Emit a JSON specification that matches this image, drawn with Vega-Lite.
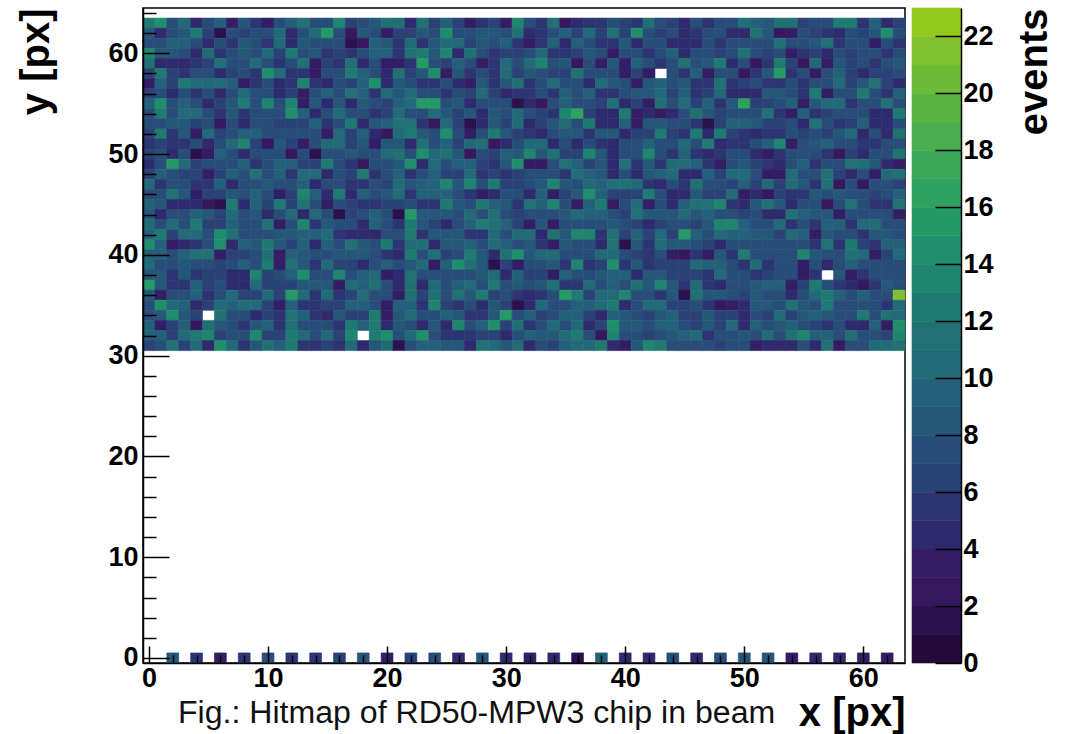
{"$schema":"https://vega.github.io/schema/vega-lite/v6.json","padding":{"left":16,"top":-2,"right":0,"bottom":0},"background":"white","spacing":4,
"title":{"text":"Fig.: Hitmap of RD50-MPW3 chip in beam","orient":"bottom","anchor":"start","frame":"group","font":"Liberation Sans","fontSize":32.1,"fontWeight":"normal","color":"#111111","offset":-36,"dx":35},
"config":{"view":{"stroke":null},"font":"Liberation Sans"},
"hconcat":[
{"width":762,"height":655,"view":{"stroke":"black","strokeWidth":1.5},
"data":{"values":[
{"x":2,"y":0,"v":8},{"x":4,"y":0,"v":5},{"x":6,"y":0,"v":3},{"x":8,"y":0,"v":5},{"x":10,"y":0,"v":7},{"x":12,"y":0,"v":5},{"x":14,"y":0,"v":5},{"x":16,"y":0,"v":6},{"x":18,"y":0,"v":8},{"x":20,"y":0,"v":3},{"x":22,"y":0,"v":6},{"x":24,"y":0,"v":7},{"x":26,"y":0,"v":4},{"x":28,"y":0,"v":8},{"x":30,"y":0,"v":4},{"x":32,"y":0,"v":3},{"x":34,"y":0,"v":4},{"x":36,"y":0,"v":1},{"x":38,"y":0,"v":9},{"x":40,"y":0,"v":4},{"x":42,"y":0,"v":4},{"x":44,"y":0,"v":7},{"x":46,"y":0,"v":4},{"x":48,"y":0,"v":7},{"x":50,"y":0,"v":8},{"x":52,"y":0,"v":8},{"x":54,"y":0,"v":3},{"x":56,"y":0,"v":4},{"x":58,"y":0,"v":4},{"x":60,"y":0,"v":3},{"x":62,"y":0,"v":3},
{"x":0,"y":63,"v":12},{"x":1,"y":63,"v":14},{"x":2,"y":63,"v":7},{"x":3,"y":63,"v":10},{"x":4,"y":63,"v":4},{"x":5,"y":63,"v":7},{"x":6,"y":63,"v":9},{"x":7,"y":63,"v":3},{"x":8,"y":63,"v":8},{"x":9,"y":63,"v":5},{"x":10,"y":63,"v":3},{"x":11,"y":63,"v":7},{"x":12,"y":63,"v":9},{"x":13,"y":63,"v":11},{"x":14,"y":63,"v":7},{"x":15,"y":63,"v":7},{"x":16,"y":63,"v":13},{"x":17,"y":63,"v":6},{"x":18,"y":63,"v":7},{"x":19,"y":63,"v":8},{"x":20,"y":63,"v":11},{"x":21,"y":63,"v":11},{"x":22,"y":63,"v":4},{"x":23,"y":63,"v":11},{"x":24,"y":63,"v":6},{"x":25,"y":63,"v":9},{"x":26,"y":63,"v":6},{"x":27,"y":63,"v":3},{"x":28,"y":63,"v":5},{"x":29,"y":63,"v":6},{"x":30,"y":63,"v":3},{"x":31,"y":63,"v":13},{"x":32,"y":63,"v":7},{"x":33,"y":63,"v":5},{"x":34,"y":63,"v":11},{"x":35,"y":63,"v":2},{"x":36,"y":63,"v":4},{"x":37,"y":63,"v":5},{"x":38,"y":63,"v":5},{"x":39,"y":63,"v":7},{"x":40,"y":63,"v":6},{"x":41,"y":63,"v":5},{"x":42,"y":63,"v":11},{"x":43,"y":63,"v":7},{"x":44,"y":63,"v":6},{"x":45,"y":63,"v":4},{"x":46,"y":63,"v":7},{"x":47,"y":63,"v":5},{"x":48,"y":63,"v":7},{"x":49,"y":63,"v":7},{"x":50,"y":63,"v":11},{"x":51,"y":63,"v":9},{"x":52,"y":63,"v":8},{"x":53,"y":63,"v":11},{"x":54,"y":63,"v":11},{"x":55,"y":63,"v":6},{"x":56,"y":63,"v":7},{"x":57,"y":63,"v":7},{"x":58,"y":63,"v":12},{"x":59,"y":63,"v":12},{"x":60,"y":63,"v":5},{"x":61,"y":63,"v":9},{"x":62,"y":63,"v":4},{"x":63,"y":63,"v":6},
{"x":0,"y":62,"v":8},{"x":1,"y":62,"v":4},{"x":2,"y":62,"v":7},{"x":3,"y":62,"v":8},{"x":4,"y":62,"v":12},{"x":5,"y":62,"v":6},{"x":6,"y":62,"v":1},{"x":7,"y":62,"v":7},{"x":8,"y":62,"v":6},{"x":9,"y":62,"v":7},{"x":10,"y":62,"v":7},{"x":11,"y":62,"v":10},{"x":12,"y":62,"v":4},{"x":13,"y":62,"v":7},{"x":14,"y":62,"v":10},{"x":15,"y":62,"v":15},{"x":16,"y":62,"v":7},{"x":17,"y":62,"v":2},{"x":18,"y":62,"v":8},{"x":19,"y":62,"v":7},{"x":20,"y":62,"v":3},{"x":21,"y":62,"v":6},{"x":22,"y":62,"v":6},{"x":23,"y":62,"v":8},{"x":24,"y":62,"v":7},{"x":25,"y":62,"v":14},{"x":26,"y":62,"v":7},{"x":27,"y":62,"v":7},{"x":28,"y":62,"v":8},{"x":29,"y":62,"v":8},{"x":30,"y":62,"v":7},{"x":31,"y":62,"v":11},{"x":32,"y":62,"v":4},{"x":33,"y":62,"v":5},{"x":34,"y":62,"v":7},{"x":35,"y":62,"v":9},{"x":36,"y":62,"v":6},{"x":37,"y":62,"v":10},{"x":38,"y":62,"v":6},{"x":39,"y":62,"v":11},{"x":40,"y":62,"v":6},{"x":41,"y":62,"v":14},{"x":42,"y":62,"v":7},{"x":43,"y":62,"v":6},{"x":44,"y":62,"v":7},{"x":45,"y":62,"v":4},{"x":46,"y":62,"v":5},{"x":47,"y":62,"v":7},{"x":48,"y":62,"v":7},{"x":49,"y":62,"v":4},{"x":50,"y":62,"v":4},{"x":51,"y":62,"v":11},{"x":52,"y":62,"v":8},{"x":53,"y":62,"v":2},{"x":54,"y":62,"v":3},{"x":55,"y":62,"v":7},{"x":56,"y":62,"v":6},{"x":57,"y":62,"v":5},{"x":58,"y":62,"v":4},{"x":59,"y":62,"v":7},{"x":60,"y":62,"v":6},{"x":61,"y":62,"v":8},{"x":62,"y":62,"v":14},{"x":63,"y":62,"v":7},
{"x":0,"y":61,"v":7},{"x":1,"y":61,"v":7},{"x":2,"y":61,"v":9},{"x":3,"y":61,"v":9},{"x":4,"y":61,"v":7},{"x":5,"y":61,"v":4},{"x":6,"y":61,"v":7},{"x":7,"y":61,"v":5},{"x":8,"y":61,"v":8},{"x":9,"y":61,"v":7},{"x":10,"y":61,"v":5},{"x":11,"y":61,"v":10},{"x":12,"y":61,"v":4},{"x":13,"y":61,"v":8},{"x":14,"y":61,"v":7},{"x":15,"y":61,"v":7},{"x":16,"y":61,"v":7},{"x":17,"y":61,"v":1},{"x":18,"y":61,"v":2},{"x":19,"y":61,"v":9},{"x":20,"y":61,"v":8},{"x":21,"y":61,"v":5},{"x":22,"y":61,"v":10},{"x":23,"y":61,"v":5},{"x":24,"y":61,"v":8},{"x":25,"y":61,"v":10},{"x":26,"y":61,"v":10},{"x":27,"y":61,"v":6},{"x":28,"y":61,"v":8},{"x":29,"y":61,"v":7},{"x":30,"y":61,"v":9},{"x":31,"y":61,"v":5},{"x":32,"y":61,"v":3},{"x":33,"y":61,"v":5},{"x":34,"y":61,"v":9},{"x":35,"y":61,"v":4},{"x":36,"y":61,"v":9},{"x":37,"y":61,"v":7},{"x":38,"y":61,"v":5},{"x":39,"y":61,"v":5},{"x":40,"y":61,"v":8},{"x":41,"y":61,"v":4},{"x":42,"y":61,"v":7},{"x":43,"y":61,"v":7},{"x":44,"y":61,"v":4},{"x":45,"y":61,"v":4},{"x":46,"y":61,"v":4},{"x":47,"y":61,"v":7},{"x":48,"y":61,"v":5},{"x":49,"y":61,"v":7},{"x":50,"y":61,"v":7},{"x":51,"y":61,"v":7},{"x":52,"y":61,"v":7},{"x":53,"y":61,"v":11},{"x":54,"y":61,"v":7},{"x":55,"y":61,"v":7},{"x":56,"y":61,"v":8},{"x":57,"y":61,"v":11},{"x":58,"y":61,"v":5},{"x":59,"y":61,"v":7},{"x":60,"y":61,"v":7},{"x":61,"y":61,"v":3},{"x":62,"y":61,"v":7},{"x":63,"y":61,"v":5},
{"x":0,"y":60,"v":13},{"x":1,"y":60,"v":8},{"x":2,"y":60,"v":8},{"x":3,"y":60,"v":7},{"x":4,"y":60,"v":4},{"x":5,"y":60,"v":10},{"x":6,"y":60,"v":5},{"x":7,"y":60,"v":7},{"x":8,"y":60,"v":8},{"x":9,"y":60,"v":7},{"x":10,"y":60,"v":10},{"x":11,"y":60,"v":6},{"x":12,"y":60,"v":12},{"x":13,"y":60,"v":7},{"x":14,"y":60,"v":8},{"x":15,"y":60,"v":5},{"x":16,"y":60,"v":6},{"x":17,"y":60,"v":5},{"x":18,"y":60,"v":7},{"x":19,"y":60,"v":9},{"x":20,"y":60,"v":9},{"x":21,"y":60,"v":5},{"x":22,"y":60,"v":11},{"x":23,"y":60,"v":12},{"x":24,"y":60,"v":8},{"x":25,"y":60,"v":13},{"x":26,"y":60,"v":4},{"x":27,"y":60,"v":11},{"x":28,"y":60,"v":7},{"x":29,"y":60,"v":5},{"x":30,"y":60,"v":6},{"x":31,"y":60,"v":6},{"x":32,"y":60,"v":7},{"x":33,"y":60,"v":10},{"x":34,"y":60,"v":5},{"x":35,"y":60,"v":5},{"x":36,"y":60,"v":6},{"x":37,"y":60,"v":8},{"x":38,"y":60,"v":7},{"x":39,"y":60,"v":3},{"x":40,"y":60,"v":7},{"x":41,"y":60,"v":7},{"x":42,"y":60,"v":5},{"x":43,"y":60,"v":7},{"x":44,"y":60,"v":9},{"x":45,"y":60,"v":4},{"x":46,"y":60,"v":7},{"x":47,"y":60,"v":7},{"x":48,"y":60,"v":6},{"x":49,"y":60,"v":7},{"x":50,"y":60,"v":11},{"x":51,"y":60,"v":7},{"x":52,"y":60,"v":6},{"x":53,"y":60,"v":7},{"x":54,"y":60,"v":3},{"x":55,"y":60,"v":5},{"x":56,"y":60,"v":6},{"x":57,"y":60,"v":4},{"x":58,"y":60,"v":7},{"x":59,"y":60,"v":6},{"x":60,"y":60,"v":7},{"x":61,"y":60,"v":7},{"x":62,"y":60,"v":5},{"x":63,"y":60,"v":7},
{"x":0,"y":59,"v":11},{"x":1,"y":59,"v":4},{"x":2,"y":59,"v":4},{"x":3,"y":59,"v":4},{"x":4,"y":59,"v":5},{"x":5,"y":59,"v":6},{"x":6,"y":59,"v":11},{"x":7,"y":59,"v":7},{"x":8,"y":59,"v":7},{"x":9,"y":59,"v":10},{"x":10,"y":59,"v":7},{"x":11,"y":59,"v":5},{"x":12,"y":59,"v":7},{"x":13,"y":59,"v":11},{"x":14,"y":59,"v":3},{"x":15,"y":59,"v":6},{"x":16,"y":59,"v":5},{"x":17,"y":59,"v":11},{"x":18,"y":59,"v":4},{"x":19,"y":59,"v":7},{"x":20,"y":59,"v":3},{"x":21,"y":59,"v":3},{"x":22,"y":59,"v":5},{"x":23,"y":59,"v":15},{"x":24,"y":59,"v":7},{"x":25,"y":59,"v":6},{"x":26,"y":59,"v":9},{"x":27,"y":59,"v":7},{"x":28,"y":59,"v":3},{"x":29,"y":59,"v":5},{"x":30,"y":59,"v":10},{"x":31,"y":59,"v":7},{"x":32,"y":59,"v":10},{"x":33,"y":59,"v":13},{"x":34,"y":59,"v":7},{"x":35,"y":59,"v":8},{"x":36,"y":59,"v":2},{"x":37,"y":59,"v":7},{"x":38,"y":59,"v":3},{"x":39,"y":59,"v":8},{"x":40,"y":59,"v":3},{"x":41,"y":59,"v":9},{"x":42,"y":59,"v":7},{"x":43,"y":59,"v":5},{"x":44,"y":59,"v":7},{"x":45,"y":59,"v":11},{"x":46,"y":59,"v":7},{"x":47,"y":59,"v":8},{"x":48,"y":59,"v":12},{"x":49,"y":59,"v":4},{"x":50,"y":59,"v":7},{"x":51,"y":59,"v":2},{"x":52,"y":59,"v":5},{"x":53,"y":59,"v":12},{"x":54,"y":59,"v":6},{"x":55,"y":59,"v":2},{"x":56,"y":59,"v":10},{"x":57,"y":59,"v":3},{"x":58,"y":59,"v":8},{"x":59,"y":59,"v":6},{"x":60,"y":59,"v":7},{"x":61,"y":59,"v":5},{"x":62,"y":59,"v":7},{"x":63,"y":59,"v":8},
{"x":0,"y":58,"v":6},{"x":1,"y":58,"v":12},{"x":2,"y":58,"v":6},{"x":3,"y":58,"v":5},{"x":4,"y":58,"v":7},{"x":5,"y":58,"v":7},{"x":6,"y":58,"v":4},{"x":7,"y":58,"v":6},{"x":8,"y":58,"v":7},{"x":9,"y":58,"v":5},{"x":10,"y":58,"v":14},{"x":11,"y":58,"v":10},{"x":12,"y":58,"v":5},{"x":13,"y":58,"v":5},{"x":14,"y":58,"v":3},{"x":15,"y":58,"v":7},{"x":16,"y":58,"v":7},{"x":17,"y":58,"v":12},{"x":18,"y":58,"v":9},{"x":19,"y":58,"v":7},{"x":20,"y":58,"v":4},{"x":21,"y":58,"v":11},{"x":22,"y":58,"v":6},{"x":23,"y":58,"v":8},{"x":24,"y":58,"v":14},{"x":25,"y":58,"v":3},{"x":26,"y":58,"v":8},{"x":27,"y":58,"v":5},{"x":28,"y":58,"v":7},{"x":29,"y":58,"v":5},{"x":30,"y":58,"v":10},{"x":31,"y":58,"v":6},{"x":32,"y":58,"v":8},{"x":33,"y":58,"v":7},{"x":34,"y":58,"v":6},{"x":35,"y":58,"v":6},{"x":36,"y":58,"v":11},{"x":37,"y":58,"v":7},{"x":38,"y":58,"v":7},{"x":39,"y":58,"v":7},{"x":40,"y":58,"v":3},{"x":41,"y":58,"v":6},{"x":42,"y":58,"v":3},{"x":44,"y":58,"v":7},{"x":45,"y":58,"v":5},{"x":46,"y":58,"v":9},{"x":47,"y":58,"v":3},{"x":48,"y":58,"v":7},{"x":49,"y":58,"v":7},{"x":50,"y":58,"v":2},{"x":51,"y":58,"v":5},{"x":52,"y":58,"v":8},{"x":53,"y":58,"v":15},{"x":54,"y":58,"v":5},{"x":55,"y":58,"v":7},{"x":56,"y":58,"v":3},{"x":57,"y":58,"v":7},{"x":58,"y":58,"v":9},{"x":59,"y":58,"v":6},{"x":60,"y":58,"v":4},{"x":61,"y":58,"v":6},{"x":62,"y":58,"v":6},{"x":63,"y":58,"v":7},
{"x":0,"y":57,"v":3},{"x":1,"y":57,"v":9},{"x":2,"y":57,"v":6},{"x":3,"y":57,"v":12},{"x":4,"y":57,"v":10},{"x":5,"y":57,"v":10},{"x":6,"y":57,"v":10},{"x":7,"y":57,"v":9},{"x":8,"y":57,"v":3},{"x":9,"y":57,"v":5},{"x":10,"y":57,"v":7},{"x":11,"y":57,"v":4},{"x":12,"y":57,"v":5},{"x":13,"y":57,"v":13},{"x":14,"y":57,"v":5},{"x":15,"y":57,"v":4},{"x":16,"y":57,"v":7},{"x":17,"y":57,"v":6},{"x":18,"y":57,"v":9},{"x":19,"y":57,"v":14},{"x":20,"y":57,"v":4},{"x":21,"y":57,"v":8},{"x":22,"y":57,"v":7},{"x":23,"y":57,"v":5},{"x":24,"y":57,"v":5},{"x":25,"y":57,"v":7},{"x":26,"y":57,"v":4},{"x":27,"y":57,"v":3},{"x":28,"y":57,"v":8},{"x":29,"y":57,"v":5},{"x":30,"y":57,"v":8},{"x":31,"y":57,"v":11},{"x":32,"y":57,"v":5},{"x":33,"y":57,"v":7},{"x":34,"y":57,"v":10},{"x":35,"y":57,"v":7},{"x":36,"y":57,"v":7},{"x":37,"y":57,"v":4},{"x":38,"y":57,"v":10},{"x":39,"y":57,"v":8},{"x":40,"y":57,"v":7},{"x":41,"y":57,"v":3},{"x":42,"y":57,"v":8},{"x":43,"y":57,"v":9},{"x":44,"y":57,"v":7},{"x":45,"y":57,"v":8},{"x":46,"y":57,"v":5},{"x":47,"y":57,"v":5},{"x":48,"y":57,"v":11},{"x":49,"y":57,"v":5},{"x":50,"y":57,"v":6},{"x":51,"y":57,"v":7},{"x":52,"y":57,"v":5},{"x":53,"y":57,"v":5},{"x":54,"y":57,"v":7},{"x":55,"y":57,"v":5},{"x":56,"y":57,"v":7},{"x":57,"y":57,"v":7},{"x":58,"y":57,"v":10},{"x":59,"y":57,"v":6},{"x":60,"y":57,"v":8},{"x":61,"y":57,"v":11},{"x":62,"y":57,"v":6},{"x":63,"y":57,"v":4},
{"x":0,"y":56,"v":6},{"x":1,"y":56,"v":7},{"x":2,"y":56,"v":4},{"x":3,"y":56,"v":7},{"x":4,"y":56,"v":5},{"x":5,"y":56,"v":7},{"x":6,"y":56,"v":4},{"x":7,"y":56,"v":7},{"x":8,"y":56,"v":10},{"x":9,"y":56,"v":7},{"x":10,"y":56,"v":7},{"x":11,"y":56,"v":4},{"x":12,"y":56,"v":6},{"x":13,"y":56,"v":3},{"x":14,"y":56,"v":7},{"x":15,"y":56,"v":9},{"x":16,"y":56,"v":7},{"x":17,"y":56,"v":11},{"x":18,"y":56,"v":9},{"x":19,"y":56,"v":5},{"x":20,"y":56,"v":10},{"x":21,"y":56,"v":8},{"x":22,"y":56,"v":10},{"x":23,"y":56,"v":7},{"x":24,"y":56,"v":7},{"x":25,"y":56,"v":5},{"x":26,"y":56,"v":7},{"x":27,"y":56,"v":6},{"x":28,"y":56,"v":10},{"x":29,"y":56,"v":6},{"x":30,"y":56,"v":4},{"x":31,"y":56,"v":5},{"x":32,"y":56,"v":5},{"x":33,"y":56,"v":7},{"x":34,"y":56,"v":5},{"x":35,"y":56,"v":9},{"x":36,"y":56,"v":7},{"x":37,"y":56,"v":9},{"x":38,"y":56,"v":5},{"x":39,"y":56,"v":5},{"x":40,"y":56,"v":7},{"x":41,"y":56,"v":8},{"x":42,"y":56,"v":8},{"x":43,"y":56,"v":10},{"x":44,"y":56,"v":6},{"x":45,"y":56,"v":9},{"x":46,"y":56,"v":5},{"x":47,"y":56,"v":6},{"x":48,"y":56,"v":10},{"x":49,"y":56,"v":4},{"x":50,"y":56,"v":4},{"x":51,"y":56,"v":4},{"x":52,"y":56,"v":8},{"x":53,"y":56,"v":8},{"x":54,"y":56,"v":7},{"x":55,"y":56,"v":5},{"x":56,"y":56,"v":12},{"x":57,"y":56,"v":3},{"x":58,"y":56,"v":7},{"x":59,"y":56,"v":7},{"x":60,"y":56,"v":12},{"x":61,"y":56,"v":7},{"x":62,"y":56,"v":5},{"x":63,"y":56,"v":9},
{"x":0,"y":55,"v":9},{"x":1,"y":55,"v":14},{"x":2,"y":55,"v":7},{"x":3,"y":55,"v":9},{"x":4,"y":55,"v":7},{"x":5,"y":55,"v":4},{"x":6,"y":55,"v":6},{"x":7,"y":55,"v":8},{"x":8,"y":55,"v":12},{"x":9,"y":55,"v":7},{"x":10,"y":55,"v":13},{"x":11,"y":55,"v":7},{"x":12,"y":55,"v":13},{"x":13,"y":55,"v":3},{"x":14,"y":55,"v":8},{"x":15,"y":55,"v":4},{"x":16,"y":55,"v":8},{"x":17,"y":55,"v":4},{"x":18,"y":55,"v":8},{"x":19,"y":55,"v":7},{"x":20,"y":55,"v":6},{"x":21,"y":55,"v":9},{"x":22,"y":55,"v":10},{"x":23,"y":55,"v":15},{"x":24,"y":55,"v":15},{"x":25,"y":55,"v":7},{"x":26,"y":55,"v":8},{"x":27,"y":55,"v":4},{"x":28,"y":55,"v":7},{"x":29,"y":55,"v":7},{"x":30,"y":55,"v":7},{"x":31,"y":55,"v":1},{"x":32,"y":55,"v":4},{"x":33,"y":55,"v":2},{"x":34,"y":55,"v":7},{"x":35,"y":55,"v":9},{"x":36,"y":55,"v":7},{"x":37,"y":55,"v":7},{"x":38,"y":55,"v":6},{"x":39,"y":55,"v":11},{"x":40,"y":55,"v":4},{"x":41,"y":55,"v":6},{"x":42,"y":55,"v":3},{"x":43,"y":55,"v":11},{"x":44,"y":55,"v":7},{"x":45,"y":55,"v":10},{"x":46,"y":55,"v":6},{"x":47,"y":55,"v":9},{"x":48,"y":55,"v":5},{"x":49,"y":55,"v":8},{"x":50,"y":55,"v":16},{"x":51,"y":55,"v":6},{"x":52,"y":55,"v":6},{"x":53,"y":55,"v":7},{"x":54,"y":55,"v":9},{"x":55,"y":55,"v":3},{"x":56,"y":55,"v":8},{"x":57,"y":55,"v":10},{"x":58,"y":55,"v":10},{"x":59,"y":55,"v":5},{"x":60,"y":55,"v":7},{"x":61,"y":55,"v":7},{"x":62,"y":55,"v":11},{"x":63,"y":55,"v":7},
{"x":0,"y":54,"v":7},{"x":1,"y":54,"v":12},{"x":2,"y":54,"v":7},{"x":3,"y":54,"v":10},{"x":4,"y":54,"v":10},{"x":5,"y":54,"v":7},{"x":6,"y":54,"v":5},{"x":7,"y":54,"v":8},{"x":8,"y":54,"v":5},{"x":9,"y":54,"v":7},{"x":10,"y":54,"v":7},{"x":11,"y":54,"v":7},{"x":12,"y":54,"v":14},{"x":13,"y":54,"v":9},{"x":14,"y":54,"v":4},{"x":15,"y":54,"v":7},{"x":16,"y":54,"v":10},{"x":17,"y":54,"v":7},{"x":18,"y":54,"v":7},{"x":19,"y":54,"v":5},{"x":20,"y":54,"v":6},{"x":21,"y":54,"v":10},{"x":22,"y":54,"v":7},{"x":23,"y":54,"v":7},{"x":24,"y":54,"v":10},{"x":25,"y":54,"v":8},{"x":26,"y":54,"v":6},{"x":27,"y":54,"v":8},{"x":28,"y":54,"v":4},{"x":29,"y":54,"v":8},{"x":30,"y":54,"v":7},{"x":31,"y":54,"v":10},{"x":32,"y":54,"v":7},{"x":33,"y":54,"v":6},{"x":34,"y":54,"v":5},{"x":35,"y":54,"v":13},{"x":36,"y":54,"v":16},{"x":37,"y":54,"v":6},{"x":38,"y":54,"v":4},{"x":39,"y":54,"v":4},{"x":40,"y":54,"v":12},{"x":41,"y":54,"v":3},{"x":42,"y":54,"v":4},{"x":43,"y":54,"v":3},{"x":44,"y":54,"v":4},{"x":45,"y":54,"v":7},{"x":46,"y":54,"v":11},{"x":47,"y":54,"v":8},{"x":48,"y":54,"v":6},{"x":49,"y":54,"v":7},{"x":50,"y":54,"v":7},{"x":51,"y":54,"v":7},{"x":52,"y":54,"v":11},{"x":53,"y":54,"v":5},{"x":54,"y":54,"v":3},{"x":55,"y":54,"v":9},{"x":56,"y":54,"v":5},{"x":57,"y":54,"v":6},{"x":58,"y":54,"v":7},{"x":59,"y":54,"v":7},{"x":60,"y":54,"v":7},{"x":61,"y":54,"v":4},{"x":62,"y":54,"v":4},{"x":63,"y":54,"v":12},
{"x":0,"y":53,"v":7},{"x":1,"y":53,"v":7},{"x":2,"y":53,"v":8},{"x":3,"y":53,"v":8},{"x":4,"y":53,"v":6},{"x":5,"y":53,"v":7},{"x":6,"y":53,"v":2},{"x":7,"y":53,"v":7},{"x":8,"y":53,"v":4},{"x":9,"y":53,"v":7},{"x":10,"y":53,"v":7},{"x":11,"y":53,"v":6},{"x":12,"y":53,"v":6},{"x":13,"y":53,"v":6},{"x":14,"y":53,"v":9},{"x":15,"y":53,"v":5},{"x":16,"y":53,"v":7},{"x":17,"y":53,"v":12},{"x":18,"y":53,"v":4},{"x":19,"y":53,"v":8},{"x":20,"y":53,"v":9},{"x":21,"y":53,"v":11},{"x":22,"y":53,"v":11},{"x":23,"y":53,"v":5},{"x":24,"y":53,"v":2},{"x":25,"y":53,"v":10},{"x":26,"y":53,"v":6},{"x":27,"y":53,"v":1},{"x":28,"y":53,"v":4},{"x":29,"y":53,"v":8},{"x":30,"y":53,"v":6},{"x":31,"y":53,"v":10},{"x":32,"y":53,"v":4},{"x":33,"y":53,"v":6},{"x":34,"y":53,"v":8},{"x":35,"y":53,"v":10},{"x":36,"y":53,"v":7},{"x":37,"y":53,"v":12},{"x":38,"y":53,"v":4},{"x":39,"y":53,"v":4},{"x":40,"y":53,"v":9},{"x":41,"y":53,"v":3},{"x":42,"y":53,"v":8},{"x":43,"y":53,"v":8},{"x":44,"y":53,"v":7},{"x":45,"y":53,"v":7},{"x":46,"y":53,"v":5},{"x":47,"y":53,"v":1},{"x":48,"y":53,"v":6},{"x":49,"y":53,"v":9},{"x":50,"y":53,"v":9},{"x":51,"y":53,"v":8},{"x":52,"y":53,"v":6},{"x":53,"y":53,"v":6},{"x":54,"y":53,"v":7},{"x":55,"y":53,"v":4},{"x":56,"y":53,"v":11},{"x":57,"y":53,"v":7},{"x":58,"y":53,"v":5},{"x":59,"y":53,"v":6},{"x":60,"y":53,"v":9},{"x":61,"y":53,"v":4},{"x":62,"y":53,"v":4},{"x":63,"y":53,"v":7},
{"x":0,"y":52,"v":6},{"x":1,"y":52,"v":12},{"x":2,"y":52,"v":5},{"x":3,"y":52,"v":8},{"x":4,"y":52,"v":3},{"x":5,"y":52,"v":10},{"x":6,"y":52,"v":6},{"x":7,"y":52,"v":7},{"x":8,"y":52,"v":9},{"x":9,"y":52,"v":9},{"x":10,"y":52,"v":7},{"x":11,"y":52,"v":7},{"x":12,"y":52,"v":7},{"x":13,"y":52,"v":7},{"x":14,"y":52,"v":7},{"x":15,"y":52,"v":3},{"x":16,"y":52,"v":10},{"x":17,"y":52,"v":6},{"x":18,"y":52,"v":9},{"x":19,"y":52,"v":4},{"x":20,"y":52,"v":2},{"x":21,"y":52,"v":10},{"x":22,"y":52,"v":12},{"x":23,"y":52,"v":8},{"x":24,"y":52,"v":7},{"x":25,"y":52,"v":14},{"x":26,"y":52,"v":7},{"x":27,"y":52,"v":3},{"x":28,"y":52,"v":7},{"x":29,"y":52,"v":12},{"x":30,"y":52,"v":8},{"x":31,"y":52,"v":6},{"x":32,"y":52,"v":5},{"x":33,"y":52,"v":4},{"x":34,"y":52,"v":7},{"x":35,"y":52,"v":8},{"x":36,"y":52,"v":8},{"x":37,"y":52,"v":5},{"x":38,"y":52,"v":8},{"x":39,"y":52,"v":8},{"x":40,"y":52,"v":4},{"x":41,"y":52,"v":6},{"x":42,"y":52,"v":6},{"x":43,"y":52,"v":12},{"x":44,"y":52,"v":6},{"x":45,"y":52,"v":5},{"x":46,"y":52,"v":12},{"x":47,"y":52,"v":4},{"x":48,"y":52,"v":12},{"x":49,"y":52,"v":6},{"x":50,"y":52,"v":5},{"x":51,"y":52,"v":4},{"x":52,"y":52,"v":5},{"x":53,"y":52,"v":5},{"x":54,"y":52,"v":7},{"x":55,"y":52,"v":6},{"x":56,"y":52,"v":7},{"x":57,"y":52,"v":6},{"x":58,"y":52,"v":8},{"x":59,"y":52,"v":10},{"x":60,"y":52,"v":4},{"x":61,"y":52,"v":7},{"x":62,"y":52,"v":4},{"x":63,"y":52,"v":11},
{"x":0,"y":51,"v":5},{"x":1,"y":51,"v":6},{"x":2,"y":51,"v":5},{"x":3,"y":51,"v":5},{"x":4,"y":51,"v":7},{"x":5,"y":51,"v":4},{"x":6,"y":51,"v":7},{"x":7,"y":51,"v":10},{"x":8,"y":51,"v":13},{"x":9,"y":51,"v":6},{"x":10,"y":51,"v":2},{"x":11,"y":51,"v":8},{"x":12,"y":51,"v":6},{"x":13,"y":51,"v":3},{"x":14,"y":51,"v":7},{"x":15,"y":51,"v":10},{"x":16,"y":51,"v":10},{"x":17,"y":51,"v":6},{"x":18,"y":51,"v":8},{"x":19,"y":51,"v":3},{"x":20,"y":51,"v":8},{"x":21,"y":51,"v":8},{"x":22,"y":51,"v":4},{"x":23,"y":51,"v":11},{"x":24,"y":51,"v":7},{"x":25,"y":51,"v":9},{"x":26,"y":51,"v":6},{"x":27,"y":51,"v":10},{"x":28,"y":51,"v":11},{"x":29,"y":51,"v":2},{"x":30,"y":51,"v":4},{"x":31,"y":51,"v":7},{"x":32,"y":51,"v":10},{"x":33,"y":51,"v":10},{"x":34,"y":51,"v":4},{"x":35,"y":51,"v":7},{"x":36,"y":51,"v":4},{"x":37,"y":51,"v":7},{"x":38,"y":51,"v":5},{"x":39,"y":51,"v":4},{"x":40,"y":51,"v":7},{"x":41,"y":51,"v":7},{"x":42,"y":51,"v":9},{"x":43,"y":51,"v":7},{"x":44,"y":51,"v":7},{"x":45,"y":51,"v":10},{"x":46,"y":51,"v":7},{"x":47,"y":51,"v":12},{"x":48,"y":51,"v":4},{"x":49,"y":51,"v":5},{"x":50,"y":51,"v":5},{"x":51,"y":51,"v":7},{"x":52,"y":51,"v":9},{"x":53,"y":51,"v":13},{"x":54,"y":51,"v":3},{"x":55,"y":51,"v":7},{"x":56,"y":51,"v":8},{"x":57,"y":51,"v":9},{"x":58,"y":51,"v":7},{"x":59,"y":51,"v":7},{"x":60,"y":51,"v":5},{"x":61,"y":51,"v":5},{"x":62,"y":51,"v":7},{"x":63,"y":51,"v":7},
{"x":0,"y":50,"v":6},{"x":1,"y":50,"v":7},{"x":2,"y":50,"v":4},{"x":3,"y":50,"v":7},{"x":4,"y":50,"v":1},{"x":5,"y":50,"v":3},{"x":6,"y":50,"v":9},{"x":7,"y":50,"v":7},{"x":8,"y":50,"v":4},{"x":9,"y":50,"v":7},{"x":10,"y":50,"v":7},{"x":11,"y":50,"v":7},{"x":12,"y":50,"v":2},{"x":13,"y":50,"v":7},{"x":14,"y":50,"v":1},{"x":15,"y":50,"v":7},{"x":16,"y":50,"v":7},{"x":17,"y":50,"v":8},{"x":18,"y":50,"v":7},{"x":19,"y":50,"v":7},{"x":20,"y":50,"v":10},{"x":21,"y":50,"v":11},{"x":22,"y":50,"v":7},{"x":23,"y":50,"v":14},{"x":24,"y":50,"v":10},{"x":25,"y":50,"v":11},{"x":26,"y":50,"v":8},{"x":27,"y":50,"v":2},{"x":28,"y":50,"v":7},{"x":29,"y":50,"v":6},{"x":30,"y":50,"v":9},{"x":31,"y":50,"v":8},{"x":32,"y":50,"v":13},{"x":33,"y":50,"v":8},{"x":34,"y":50,"v":11},{"x":35,"y":50,"v":6},{"x":36,"y":50,"v":6},{"x":37,"y":50,"v":13},{"x":38,"y":50,"v":8},{"x":39,"y":50,"v":4},{"x":40,"y":50,"v":7},{"x":41,"y":50,"v":7},{"x":42,"y":50,"v":13},{"x":43,"y":50,"v":7},{"x":44,"y":50,"v":5},{"x":45,"y":50,"v":9},{"x":46,"y":50,"v":5},{"x":47,"y":50,"v":4},{"x":48,"y":50,"v":5},{"x":49,"y":50,"v":7},{"x":50,"y":50,"v":7},{"x":51,"y":50,"v":4},{"x":52,"y":50,"v":3},{"x":53,"y":50,"v":5},{"x":54,"y":50,"v":7},{"x":55,"y":50,"v":7},{"x":56,"y":50,"v":7},{"x":57,"y":50,"v":5},{"x":58,"y":50,"v":2},{"x":59,"y":50,"v":6},{"x":60,"y":50,"v":4},{"x":61,"y":50,"v":7},{"x":62,"y":50,"v":7},{"x":63,"y":50,"v":11},
{"x":0,"y":49,"v":4},{"x":1,"y":49,"v":7},{"x":2,"y":49,"v":15},{"x":3,"y":49,"v":10},{"x":4,"y":49,"v":6},{"x":5,"y":49,"v":7},{"x":6,"y":49,"v":7},{"x":7,"y":49,"v":7},{"x":8,"y":49,"v":9},{"x":9,"y":49,"v":5},{"x":10,"y":49,"v":7},{"x":11,"y":49,"v":9},{"x":12,"y":49,"v":9},{"x":13,"y":49,"v":6},{"x":14,"y":49,"v":6},{"x":15,"y":49,"v":12},{"x":16,"y":49,"v":7},{"x":17,"y":49,"v":5},{"x":18,"y":49,"v":2},{"x":19,"y":49,"v":7},{"x":20,"y":49,"v":7},{"x":21,"y":49,"v":8},{"x":22,"y":49,"v":14},{"x":23,"y":49,"v":4},{"x":24,"y":49,"v":10},{"x":25,"y":49,"v":7},{"x":26,"y":49,"v":9},{"x":27,"y":49,"v":9},{"x":28,"y":49,"v":6},{"x":29,"y":49,"v":5},{"x":30,"y":49,"v":8},{"x":31,"y":49,"v":14},{"x":32,"y":49,"v":3},{"x":33,"y":49,"v":2},{"x":34,"y":49,"v":7},{"x":35,"y":49,"v":11},{"x":36,"y":49,"v":9},{"x":37,"y":49,"v":6},{"x":38,"y":49,"v":8},{"x":39,"y":49,"v":4},{"x":40,"y":49,"v":11},{"x":41,"y":49,"v":5},{"x":42,"y":49,"v":8},{"x":43,"y":49,"v":5},{"x":44,"y":49,"v":10},{"x":45,"y":49,"v":10},{"x":46,"y":49,"v":9},{"x":47,"y":49,"v":5},{"x":48,"y":49,"v":3},{"x":49,"y":49,"v":7},{"x":50,"y":49,"v":8},{"x":51,"y":49,"v":6},{"x":52,"y":49,"v":5},{"x":53,"y":49,"v":4},{"x":54,"y":49,"v":7},{"x":55,"y":49,"v":9},{"x":56,"y":49,"v":5},{"x":57,"y":49,"v":7},{"x":58,"y":49,"v":7},{"x":59,"y":49,"v":11},{"x":60,"y":49,"v":11},{"x":61,"y":49,"v":8},{"x":62,"y":49,"v":4},{"x":63,"y":49,"v":3},
{"x":0,"y":48,"v":6},{"x":1,"y":48,"v":9},{"x":2,"y":48,"v":7},{"x":3,"y":48,"v":6},{"x":4,"y":48,"v":6},{"x":5,"y":48,"v":3},{"x":6,"y":48,"v":6},{"x":7,"y":48,"v":9},{"x":8,"y":48,"v":7},{"x":9,"y":48,"v":11},{"x":10,"y":48,"v":7},{"x":11,"y":48,"v":9},{"x":12,"y":48,"v":5},{"x":13,"y":48,"v":10},{"x":14,"y":48,"v":10},{"x":15,"y":48,"v":4},{"x":16,"y":48,"v":7},{"x":17,"y":48,"v":6},{"x":18,"y":48,"v":12},{"x":19,"y":48,"v":5},{"x":20,"y":48,"v":7},{"x":21,"y":48,"v":9},{"x":22,"y":48,"v":5},{"x":23,"y":48,"v":7},{"x":24,"y":48,"v":9},{"x":25,"y":48,"v":6},{"x":26,"y":48,"v":6},{"x":27,"y":48,"v":10},{"x":28,"y":48,"v":5},{"x":29,"y":48,"v":6},{"x":30,"y":48,"v":5},{"x":31,"y":48,"v":6},{"x":32,"y":48,"v":7},{"x":33,"y":48,"v":7},{"x":34,"y":48,"v":7},{"x":35,"y":48,"v":5},{"x":36,"y":48,"v":11},{"x":37,"y":48,"v":9},{"x":38,"y":48,"v":8},{"x":39,"y":48,"v":4},{"x":40,"y":48,"v":7},{"x":41,"y":48,"v":4},{"x":42,"y":48,"v":8},{"x":43,"y":48,"v":9},{"x":44,"y":48,"v":10},{"x":45,"y":48,"v":4},{"x":46,"y":48,"v":4},{"x":47,"y":48,"v":9},{"x":48,"y":48,"v":6},{"x":49,"y":48,"v":10},{"x":50,"y":48,"v":10},{"x":51,"y":48,"v":7},{"x":52,"y":48,"v":3},{"x":53,"y":48,"v":3},{"x":54,"y":48,"v":10},{"x":55,"y":48,"v":7},{"x":56,"y":48,"v":7},{"x":57,"y":48,"v":11},{"x":58,"y":48,"v":6},{"x":59,"y":48,"v":4},{"x":60,"y":48,"v":7},{"x":61,"y":48,"v":3},{"x":62,"y":48,"v":10},{"x":63,"y":48,"v":11},
{"x":0,"y":47,"v":10},{"x":1,"y":47,"v":5},{"x":2,"y":47,"v":7},{"x":3,"y":47,"v":7},{"x":4,"y":47,"v":5},{"x":5,"y":47,"v":5},{"x":6,"y":47,"v":9},{"x":7,"y":47,"v":4},{"x":8,"y":47,"v":7},{"x":9,"y":47,"v":7},{"x":10,"y":47,"v":8},{"x":11,"y":47,"v":7},{"x":12,"y":47,"v":7},{"x":13,"y":47,"v":9},{"x":14,"y":47,"v":4},{"x":15,"y":47,"v":7},{"x":16,"y":47,"v":7},{"x":17,"y":47,"v":5},{"x":18,"y":47,"v":5},{"x":19,"y":47,"v":7},{"x":20,"y":47,"v":6},{"x":21,"y":47,"v":10},{"x":22,"y":47,"v":8},{"x":23,"y":47,"v":9},{"x":24,"y":47,"v":9},{"x":25,"y":47,"v":13},{"x":26,"y":47,"v":8},{"x":27,"y":47,"v":13},{"x":28,"y":47,"v":7},{"x":29,"y":47,"v":12},{"x":30,"y":47,"v":6},{"x":31,"y":47,"v":6},{"x":32,"y":47,"v":7},{"x":33,"y":47,"v":8},{"x":34,"y":47,"v":13},{"x":35,"y":47,"v":8},{"x":36,"y":47,"v":7},{"x":37,"y":47,"v":10},{"x":38,"y":47,"v":9},{"x":39,"y":47,"v":11},{"x":40,"y":47,"v":11},{"x":41,"y":47,"v":10},{"x":42,"y":47,"v":5},{"x":43,"y":47,"v":4},{"x":44,"y":47,"v":7},{"x":45,"y":47,"v":5},{"x":46,"y":47,"v":11},{"x":47,"y":47,"v":7},{"x":48,"y":47,"v":7},{"x":49,"y":47,"v":6},{"x":50,"y":47,"v":9},{"x":51,"y":47,"v":6},{"x":52,"y":47,"v":10},{"x":53,"y":47,"v":6},{"x":54,"y":47,"v":10},{"x":55,"y":47,"v":8},{"x":56,"y":47,"v":5},{"x":57,"y":47,"v":11},{"x":58,"y":47,"v":2},{"x":59,"y":47,"v":7},{"x":60,"y":47,"v":2},{"x":61,"y":47,"v":7},{"x":62,"y":47,"v":7},{"x":63,"y":47,"v":6},
{"x":0,"y":46,"v":7},{"x":1,"y":46,"v":7},{"x":2,"y":46,"v":11},{"x":3,"y":46,"v":8},{"x":4,"y":46,"v":3},{"x":5,"y":46,"v":6},{"x":6,"y":46,"v":6},{"x":7,"y":46,"v":8},{"x":8,"y":46,"v":7},{"x":9,"y":46,"v":9},{"x":10,"y":46,"v":7},{"x":11,"y":46,"v":3},{"x":12,"y":46,"v":6},{"x":13,"y":46,"v":13},{"x":14,"y":46,"v":9},{"x":15,"y":46,"v":4},{"x":16,"y":46,"v":12},{"x":17,"y":46,"v":4},{"x":18,"y":46,"v":9},{"x":19,"y":46,"v":7},{"x":20,"y":46,"v":8},{"x":21,"y":46,"v":10},{"x":22,"y":46,"v":5},{"x":23,"y":46,"v":9},{"x":24,"y":46,"v":9},{"x":25,"y":46,"v":9},{"x":26,"y":46,"v":7},{"x":27,"y":46,"v":5},{"x":28,"y":46,"v":3},{"x":29,"y":46,"v":4},{"x":30,"y":46,"v":7},{"x":31,"y":46,"v":7},{"x":32,"y":46,"v":4},{"x":33,"y":46,"v":9},{"x":34,"y":46,"v":3},{"x":35,"y":46,"v":6},{"x":36,"y":46,"v":8},{"x":37,"y":46,"v":14},{"x":38,"y":46,"v":9},{"x":39,"y":46,"v":6},{"x":40,"y":46,"v":6},{"x":41,"y":46,"v":6},{"x":42,"y":46,"v":12},{"x":43,"y":46,"v":7},{"x":44,"y":46,"v":4},{"x":45,"y":46,"v":4},{"x":46,"y":46,"v":8},{"x":47,"y":46,"v":6},{"x":48,"y":46,"v":6},{"x":49,"y":46,"v":10},{"x":50,"y":46,"v":3},{"x":51,"y":46,"v":4},{"x":52,"y":46,"v":2},{"x":53,"y":46,"v":6},{"x":54,"y":46,"v":5},{"x":55,"y":46,"v":5},{"x":56,"y":46,"v":8},{"x":57,"y":46,"v":7},{"x":58,"y":46,"v":8},{"x":59,"y":46,"v":7},{"x":60,"y":46,"v":7},{"x":61,"y":46,"v":6},{"x":62,"y":46,"v":7},{"x":63,"y":46,"v":9},
{"x":0,"y":45,"v":9},{"x":1,"y":45,"v":8},{"x":2,"y":45,"v":4},{"x":3,"y":45,"v":4},{"x":4,"y":45,"v":4},{"x":5,"y":45,"v":2},{"x":6,"y":45,"v":1},{"x":7,"y":45,"v":12},{"x":8,"y":45,"v":4},{"x":9,"y":45,"v":9},{"x":10,"y":45,"v":6},{"x":11,"y":45,"v":12},{"x":12,"y":45,"v":6},{"x":13,"y":45,"v":11},{"x":14,"y":45,"v":7},{"x":15,"y":45,"v":3},{"x":16,"y":45,"v":7},{"x":17,"y":45,"v":6},{"x":18,"y":45,"v":5},{"x":19,"y":45,"v":5},{"x":20,"y":45,"v":6},{"x":21,"y":45,"v":6},{"x":22,"y":45,"v":7},{"x":23,"y":45,"v":5},{"x":24,"y":45,"v":5},{"x":25,"y":45,"v":12},{"x":26,"y":45,"v":8},{"x":27,"y":45,"v":7},{"x":28,"y":45,"v":12},{"x":29,"y":45,"v":9},{"x":30,"y":45,"v":8},{"x":31,"y":45,"v":5},{"x":32,"y":45,"v":11},{"x":33,"y":45,"v":9},{"x":34,"y":45,"v":13},{"x":35,"y":45,"v":7},{"x":36,"y":45,"v":3},{"x":37,"y":45,"v":9},{"x":38,"y":45,"v":12},{"x":39,"y":45,"v":3},{"x":40,"y":45,"v":7},{"x":41,"y":45,"v":10},{"x":42,"y":45,"v":3},{"x":43,"y":45,"v":7},{"x":44,"y":45,"v":4},{"x":45,"y":45,"v":9},{"x":46,"y":45,"v":11},{"x":47,"y":45,"v":11},{"x":48,"y":45,"v":13},{"x":49,"y":45,"v":5},{"x":50,"y":45,"v":4},{"x":51,"y":45,"v":8},{"x":52,"y":45,"v":11},{"x":53,"y":45,"v":8},{"x":54,"y":45,"v":4},{"x":55,"y":45,"v":7},{"x":56,"y":45,"v":7},{"x":57,"y":45,"v":2},{"x":58,"y":45,"v":7},{"x":59,"y":45,"v":11},{"x":60,"y":45,"v":7},{"x":61,"y":45,"v":5},{"x":62,"y":45,"v":5},{"x":63,"y":45,"v":11},
{"x":0,"y":44,"v":8},{"x":1,"y":44,"v":4},{"x":2,"y":44,"v":7},{"x":3,"y":44,"v":7},{"x":4,"y":44,"v":9},{"x":5,"y":44,"v":8},{"x":6,"y":44,"v":6},{"x":7,"y":44,"v":10},{"x":8,"y":44,"v":7},{"x":9,"y":44,"v":8},{"x":10,"y":44,"v":4},{"x":11,"y":44,"v":7},{"x":12,"y":44,"v":10},{"x":13,"y":44,"v":4},{"x":14,"y":44,"v":10},{"x":15,"y":44,"v":7},{"x":16,"y":44,"v":1},{"x":17,"y":44,"v":6},{"x":18,"y":44,"v":7},{"x":19,"y":44,"v":9},{"x":20,"y":44,"v":7},{"x":21,"y":44,"v":1},{"x":22,"y":44,"v":15},{"x":23,"y":44,"v":8},{"x":24,"y":44,"v":8},{"x":25,"y":44,"v":8},{"x":26,"y":44,"v":7},{"x":27,"y":44,"v":10},{"x":28,"y":44,"v":7},{"x":29,"y":44,"v":11},{"x":30,"y":44,"v":7},{"x":31,"y":44,"v":6},{"x":32,"y":44,"v":7},{"x":33,"y":44,"v":7},{"x":34,"y":44,"v":7},{"x":35,"y":44,"v":8},{"x":36,"y":44,"v":10},{"x":37,"y":44,"v":9},{"x":38,"y":44,"v":9},{"x":39,"y":44,"v":7},{"x":40,"y":44,"v":6},{"x":41,"y":44,"v":11},{"x":42,"y":44,"v":8},{"x":43,"y":44,"v":8},{"x":44,"y":44,"v":8},{"x":45,"y":44,"v":10},{"x":46,"y":44,"v":8},{"x":47,"y":44,"v":9},{"x":48,"y":44,"v":7},{"x":49,"y":44,"v":7},{"x":50,"y":44,"v":6},{"x":51,"y":44,"v":7},{"x":52,"y":44,"v":4},{"x":53,"y":44,"v":4},{"x":54,"y":44,"v":11},{"x":55,"y":44,"v":9},{"x":56,"y":44,"v":8},{"x":57,"y":44,"v":8},{"x":58,"y":44,"v":3},{"x":59,"y":44,"v":7},{"x":60,"y":44,"v":7},{"x":61,"y":44,"v":7},{"x":62,"y":44,"v":7},{"x":63,"y":44,"v":3},
{"x":0,"y":43,"v":10},{"x":1,"y":43,"v":7},{"x":2,"y":43,"v":10},{"x":3,"y":43,"v":7},{"x":4,"y":43,"v":12},{"x":5,"y":43,"v":6},{"x":6,"y":43,"v":6},{"x":7,"y":43,"v":9},{"x":8,"y":43,"v":7},{"x":9,"y":43,"v":7},{"x":10,"y":43,"v":11},{"x":11,"y":43,"v":3},{"x":12,"y":43,"v":7},{"x":13,"y":43,"v":13},{"x":14,"y":43,"v":5},{"x":15,"y":43,"v":8},{"x":16,"y":43,"v":7},{"x":17,"y":43,"v":7},{"x":18,"y":43,"v":4},{"x":19,"y":43,"v":9},{"x":20,"y":43,"v":7},{"x":21,"y":43,"v":5},{"x":22,"y":43,"v":12},{"x":23,"y":43,"v":8},{"x":24,"y":43,"v":6},{"x":25,"y":43,"v":4},{"x":26,"y":43,"v":7},{"x":27,"y":43,"v":9},{"x":28,"y":43,"v":12},{"x":29,"y":43,"v":11},{"x":30,"y":43,"v":9},{"x":31,"y":43,"v":6},{"x":32,"y":43,"v":3},{"x":33,"y":43,"v":8},{"x":34,"y":43,"v":3},{"x":35,"y":43,"v":7},{"x":36,"y":43,"v":7},{"x":37,"y":43,"v":7},{"x":38,"y":43,"v":7},{"x":39,"y":43,"v":8},{"x":40,"y":43,"v":7},{"x":41,"y":43,"v":6},{"x":42,"y":43,"v":4},{"x":43,"y":43,"v":6},{"x":44,"y":43,"v":7},{"x":45,"y":43,"v":7},{"x":46,"y":43,"v":6},{"x":47,"y":43,"v":8},{"x":48,"y":43,"v":13},{"x":49,"y":43,"v":13},{"x":50,"y":43,"v":9},{"x":51,"y":43,"v":7},{"x":52,"y":43,"v":7},{"x":53,"y":43,"v":10},{"x":54,"y":43,"v":5},{"x":55,"y":43,"v":7},{"x":56,"y":43,"v":5},{"x":57,"y":43,"v":9},{"x":58,"y":43,"v":9},{"x":59,"y":43,"v":5},{"x":60,"y":43,"v":10},{"x":61,"y":43,"v":10},{"x":62,"y":43,"v":7},{"x":63,"y":43,"v":7},
{"x":0,"y":42,"v":9},{"x":1,"y":42,"v":12},{"x":2,"y":42,"v":6},{"x":3,"y":42,"v":10},{"x":4,"y":42,"v":10},{"x":5,"y":42,"v":7},{"x":6,"y":42,"v":14},{"x":7,"y":42,"v":11},{"x":8,"y":42,"v":7},{"x":9,"y":42,"v":7},{"x":10,"y":42,"v":7},{"x":11,"y":42,"v":8},{"x":12,"y":42,"v":8},{"x":13,"y":42,"v":9},{"x":14,"y":42,"v":9},{"x":15,"y":42,"v":10},{"x":16,"y":42,"v":5},{"x":17,"y":42,"v":4},{"x":18,"y":42,"v":4},{"x":19,"y":42,"v":4},{"x":20,"y":42,"v":7},{"x":21,"y":42,"v":7},{"x":22,"y":42,"v":12},{"x":23,"y":42,"v":5},{"x":24,"y":42,"v":8},{"x":25,"y":42,"v":8},{"x":26,"y":42,"v":8},{"x":27,"y":42,"v":5},{"x":28,"y":42,"v":5},{"x":29,"y":42,"v":10},{"x":30,"y":42,"v":7},{"x":31,"y":42,"v":10},{"x":32,"y":42,"v":10},{"x":33,"y":42,"v":4},{"x":34,"y":42,"v":11},{"x":35,"y":42,"v":8},{"x":36,"y":42,"v":13},{"x":37,"y":42,"v":13},{"x":38,"y":42,"v":5},{"x":39,"y":42,"v":11},{"x":40,"y":42,"v":6},{"x":41,"y":42,"v":9},{"x":42,"y":42,"v":6},{"x":43,"y":42,"v":10},{"x":44,"y":42,"v":6},{"x":45,"y":42,"v":15},{"x":46,"y":42,"v":9},{"x":47,"y":42,"v":7},{"x":48,"y":42,"v":10},{"x":49,"y":42,"v":9},{"x":50,"y":42,"v":9},{"x":51,"y":42,"v":8},{"x":52,"y":42,"v":8},{"x":53,"y":42,"v":6},{"x":54,"y":42,"v":10},{"x":55,"y":42,"v":9},{"x":56,"y":42,"v":3},{"x":57,"y":42,"v":8},{"x":58,"y":42,"v":7},{"x":59,"y":42,"v":7},{"x":60,"y":42,"v":5},{"x":61,"y":42,"v":8},{"x":62,"y":42,"v":8},{"x":63,"y":42,"v":7},
{"x":0,"y":41,"v":14},{"x":1,"y":41,"v":9},{"x":2,"y":41,"v":3},{"x":3,"y":41,"v":4},{"x":4,"y":41,"v":5},{"x":5,"y":41,"v":7},{"x":6,"y":41,"v":14},{"x":7,"y":41,"v":4},{"x":8,"y":41,"v":9},{"x":9,"y":41,"v":8},{"x":10,"y":41,"v":12},{"x":11,"y":41,"v":8},{"x":12,"y":41,"v":6},{"x":13,"y":41,"v":9},{"x":14,"y":41,"v":4},{"x":15,"y":41,"v":9},{"x":16,"y":41,"v":7},{"x":17,"y":41,"v":11},{"x":18,"y":41,"v":8},{"x":19,"y":41,"v":7},{"x":20,"y":41,"v":12},{"x":21,"y":41,"v":5},{"x":22,"y":41,"v":10},{"x":23,"y":41,"v":11},{"x":24,"y":41,"v":4},{"x":25,"y":41,"v":8},{"x":26,"y":41,"v":8},{"x":27,"y":41,"v":9},{"x":28,"y":41,"v":7},{"x":29,"y":41,"v":10},{"x":30,"y":41,"v":9},{"x":31,"y":41,"v":7},{"x":32,"y":41,"v":8},{"x":33,"y":41,"v":5},{"x":34,"y":41,"v":3},{"x":35,"y":41,"v":8},{"x":36,"y":41,"v":7},{"x":37,"y":41,"v":7},{"x":38,"y":41,"v":4},{"x":39,"y":41,"v":11},{"x":40,"y":41,"v":1},{"x":41,"y":41,"v":8},{"x":42,"y":41,"v":5},{"x":43,"y":41,"v":10},{"x":44,"y":41,"v":8},{"x":45,"y":41,"v":8},{"x":46,"y":41,"v":7},{"x":47,"y":41,"v":6},{"x":48,"y":41,"v":4},{"x":49,"y":41,"v":7},{"x":50,"y":41,"v":7},{"x":51,"y":41,"v":7},{"x":52,"y":41,"v":7},{"x":53,"y":41,"v":7},{"x":54,"y":41,"v":7},{"x":55,"y":41,"v":7},{"x":56,"y":41,"v":5},{"x":57,"y":41,"v":11},{"x":58,"y":41,"v":5},{"x":59,"y":41,"v":12},{"x":60,"y":41,"v":6},{"x":61,"y":41,"v":5},{"x":62,"y":41,"v":9},{"x":63,"y":41,"v":9},
{"x":0,"y":40,"v":9},{"x":1,"y":40,"v":9},{"x":2,"y":40,"v":7},{"x":3,"y":40,"v":9},{"x":4,"y":40,"v":11},{"x":5,"y":40,"v":11},{"x":6,"y":40,"v":3},{"x":7,"y":40,"v":6},{"x":8,"y":40,"v":6},{"x":9,"y":40,"v":7},{"x":10,"y":40,"v":11},{"x":11,"y":40,"v":3},{"x":12,"y":40,"v":9},{"x":13,"y":40,"v":8},{"x":14,"y":40,"v":7},{"x":15,"y":40,"v":7},{"x":16,"y":40,"v":8},{"x":17,"y":40,"v":8},{"x":18,"y":40,"v":8},{"x":19,"y":40,"v":7},{"x":20,"y":40,"v":5},{"x":21,"y":40,"v":4},{"x":22,"y":40,"v":12},{"x":23,"y":40,"v":7},{"x":24,"y":40,"v":11},{"x":25,"y":40,"v":6},{"x":26,"y":40,"v":7},{"x":27,"y":40,"v":12},{"x":28,"y":40,"v":8},{"x":29,"y":40,"v":4},{"x":30,"y":40,"v":11},{"x":31,"y":40,"v":14},{"x":32,"y":40,"v":8},{"x":33,"y":40,"v":10},{"x":34,"y":40,"v":10},{"x":35,"y":40,"v":7},{"x":36,"y":40,"v":7},{"x":37,"y":40,"v":7},{"x":38,"y":40,"v":10},{"x":39,"y":40,"v":10},{"x":40,"y":40,"v":7},{"x":41,"y":40,"v":6},{"x":42,"y":40,"v":5},{"x":43,"y":40,"v":7},{"x":44,"y":40,"v":3},{"x":45,"y":40,"v":2},{"x":46,"y":40,"v":5},{"x":47,"y":40,"v":3},{"x":48,"y":40,"v":8},{"x":49,"y":40,"v":5},{"x":50,"y":40,"v":12},{"x":51,"y":40,"v":7},{"x":52,"y":40,"v":7},{"x":53,"y":40,"v":7},{"x":54,"y":40,"v":7},{"x":55,"y":40,"v":13},{"x":56,"y":40,"v":8},{"x":57,"y":40,"v":7},{"x":58,"y":40,"v":7},{"x":59,"y":40,"v":11},{"x":60,"y":40,"v":10},{"x":61,"y":40,"v":3},{"x":62,"y":40,"v":6},{"x":63,"y":40,"v":10},
{"x":0,"y":39,"v":10},{"x":1,"y":39,"v":7},{"x":2,"y":39,"v":7},{"x":3,"y":39,"v":8},{"x":4,"y":39,"v":7},{"x":5,"y":39,"v":7},{"x":6,"y":39,"v":6},{"x":7,"y":39,"v":7},{"x":8,"y":39,"v":9},{"x":9,"y":39,"v":7},{"x":10,"y":39,"v":12},{"x":11,"y":39,"v":3},{"x":12,"y":39,"v":11},{"x":13,"y":39,"v":8},{"x":14,"y":39,"v":5},{"x":15,"y":39,"v":10},{"x":16,"y":39,"v":6},{"x":17,"y":39,"v":6},{"x":18,"y":39,"v":4},{"x":19,"y":39,"v":7},{"x":20,"y":39,"v":9},{"x":21,"y":39,"v":7},{"x":22,"y":39,"v":8},{"x":23,"y":39,"v":10},{"x":24,"y":39,"v":3},{"x":25,"y":39,"v":9},{"x":26,"y":39,"v":14},{"x":27,"y":39,"v":11},{"x":28,"y":39,"v":8},{"x":29,"y":39,"v":1},{"x":30,"y":39,"v":6},{"x":31,"y":39,"v":3},{"x":32,"y":39,"v":7},{"x":33,"y":39,"v":7},{"x":34,"y":39,"v":8},{"x":35,"y":39,"v":5},{"x":36,"y":39,"v":13},{"x":37,"y":39,"v":5},{"x":38,"y":39,"v":6},{"x":39,"y":39,"v":14},{"x":40,"y":39,"v":5},{"x":41,"y":39,"v":8},{"x":42,"y":39,"v":5},{"x":43,"y":39,"v":6},{"x":44,"y":39,"v":6},{"x":45,"y":39,"v":6},{"x":46,"y":39,"v":10},{"x":47,"y":39,"v":9},{"x":48,"y":39,"v":9},{"x":49,"y":39,"v":7},{"x":50,"y":39,"v":5},{"x":51,"y":39,"v":10},{"x":52,"y":39,"v":5},{"x":53,"y":39,"v":7},{"x":54,"y":39,"v":7},{"x":55,"y":39,"v":3},{"x":56,"y":39,"v":7},{"x":57,"y":39,"v":4},{"x":58,"y":39,"v":7},{"x":59,"y":39,"v":9},{"x":60,"y":39,"v":7},{"x":61,"y":39,"v":7},{"x":62,"y":39,"v":7},{"x":63,"y":39,"v":7},
{"x":0,"y":38,"v":8},{"x":1,"y":38,"v":8},{"x":2,"y":38,"v":5},{"x":3,"y":38,"v":8},{"x":4,"y":38,"v":5},{"x":5,"y":38,"v":6},{"x":6,"y":38,"v":6},{"x":7,"y":38,"v":4},{"x":8,"y":38,"v":4},{"x":9,"y":38,"v":13},{"x":10,"y":38,"v":6},{"x":11,"y":38,"v":7},{"x":12,"y":38,"v":9},{"x":13,"y":38,"v":14},{"x":14,"y":38,"v":7},{"x":15,"y":38,"v":7},{"x":16,"y":38,"v":13},{"x":17,"y":38,"v":7},{"x":18,"y":38,"v":9},{"x":19,"y":38,"v":10},{"x":20,"y":38,"v":3},{"x":21,"y":38,"v":4},{"x":22,"y":38,"v":11},{"x":23,"y":38,"v":7},{"x":24,"y":38,"v":7},{"x":25,"y":38,"v":7},{"x":26,"y":38,"v":7},{"x":27,"y":38,"v":7},{"x":28,"y":38,"v":8},{"x":29,"y":38,"v":10},{"x":30,"y":38,"v":4},{"x":31,"y":38,"v":9},{"x":32,"y":38,"v":6},{"x":33,"y":38,"v":6},{"x":34,"y":38,"v":3},{"x":35,"y":38,"v":9},{"x":36,"y":38,"v":7},{"x":37,"y":38,"v":7},{"x":38,"y":38,"v":8},{"x":39,"y":38,"v":9},{"x":40,"y":38,"v":9},{"x":41,"y":38,"v":4},{"x":42,"y":38,"v":8},{"x":43,"y":38,"v":8},{"x":44,"y":38,"v":6},{"x":45,"y":38,"v":6},{"x":46,"y":38,"v":6},{"x":47,"y":38,"v":5},{"x":48,"y":38,"v":10},{"x":49,"y":38,"v":7},{"x":50,"y":38,"v":7},{"x":51,"y":38,"v":5},{"x":52,"y":38,"v":6},{"x":53,"y":38,"v":7},{"x":54,"y":38,"v":7},{"x":55,"y":38,"v":3},{"x":56,"y":38,"v":5},{"x":58,"y":38,"v":8},{"x":59,"y":38,"v":3},{"x":60,"y":38,"v":5},{"x":61,"y":38,"v":7},{"x":62,"y":38,"v":7},{"x":63,"y":38,"v":7},
{"x":0,"y":37,"v":15},{"x":1,"y":37,"v":8},{"x":2,"y":37,"v":5},{"x":3,"y":37,"v":5},{"x":4,"y":37,"v":9},{"x":5,"y":37,"v":6},{"x":6,"y":37,"v":7},{"x":7,"y":37,"v":4},{"x":8,"y":37,"v":4},{"x":9,"y":37,"v":10},{"x":10,"y":37,"v":6},{"x":11,"y":37,"v":6},{"x":12,"y":37,"v":6},{"x":13,"y":37,"v":8},{"x":14,"y":37,"v":8},{"x":15,"y":37,"v":8},{"x":16,"y":37,"v":3},{"x":17,"y":37,"v":10},{"x":18,"y":37,"v":9},{"x":19,"y":37,"v":11},{"x":20,"y":37,"v":7},{"x":21,"y":37,"v":4},{"x":22,"y":37,"v":11},{"x":23,"y":37,"v":4},{"x":24,"y":37,"v":10},{"x":25,"y":37,"v":7},{"x":26,"y":37,"v":9},{"x":27,"y":37,"v":10},{"x":28,"y":37,"v":7},{"x":29,"y":37,"v":12},{"x":30,"y":37,"v":7},{"x":31,"y":37,"v":8},{"x":32,"y":37,"v":7},{"x":33,"y":37,"v":8},{"x":34,"y":37,"v":11},{"x":35,"y":37,"v":5},{"x":36,"y":37,"v":5},{"x":37,"y":37,"v":10},{"x":38,"y":37,"v":7},{"x":39,"y":37,"v":9},{"x":40,"y":37,"v":7},{"x":41,"y":37,"v":11},{"x":42,"y":37,"v":8},{"x":43,"y":37,"v":13},{"x":44,"y":37,"v":8},{"x":45,"y":37,"v":5},{"x":46,"y":37,"v":10},{"x":47,"y":37,"v":5},{"x":48,"y":37,"v":4},{"x":49,"y":37,"v":7},{"x":50,"y":37,"v":7},{"x":51,"y":37,"v":8},{"x":52,"y":37,"v":9},{"x":53,"y":37,"v":9},{"x":54,"y":37,"v":3},{"x":55,"y":37,"v":6},{"x":56,"y":37,"v":12},{"x":57,"y":37,"v":7},{"x":58,"y":37,"v":5},{"x":59,"y":37,"v":4},{"x":60,"y":37,"v":2},{"x":61,"y":37,"v":5},{"x":62,"y":37,"v":8},{"x":63,"y":37,"v":7},
{"x":0,"y":36,"v":8},{"x":1,"y":36,"v":3},{"x":2,"y":36,"v":7},{"x":3,"y":36,"v":7},{"x":4,"y":36,"v":9},{"x":5,"y":36,"v":5},{"x":6,"y":36,"v":7},{"x":7,"y":36,"v":10},{"x":8,"y":36,"v":6},{"x":9,"y":36,"v":6},{"x":10,"y":36,"v":10},{"x":11,"y":36,"v":6},{"x":12,"y":36,"v":15},{"x":13,"y":36,"v":10},{"x":14,"y":36,"v":5},{"x":15,"y":36,"v":10},{"x":16,"y":36,"v":5},{"x":17,"y":36,"v":6},{"x":18,"y":36,"v":10},{"x":19,"y":36,"v":7},{"x":20,"y":36,"v":7},{"x":21,"y":36,"v":3},{"x":22,"y":36,"v":11},{"x":23,"y":36,"v":6},{"x":24,"y":36,"v":11},{"x":25,"y":36,"v":7},{"x":26,"y":36,"v":11},{"x":27,"y":36,"v":8},{"x":28,"y":36,"v":12},{"x":29,"y":36,"v":6},{"x":30,"y":36,"v":7},{"x":31,"y":36,"v":5},{"x":32,"y":36,"v":4},{"x":33,"y":36,"v":5},{"x":34,"y":36,"v":7},{"x":35,"y":36,"v":15},{"x":36,"y":36,"v":12},{"x":37,"y":36,"v":6},{"x":38,"y":36,"v":10},{"x":39,"y":36,"v":10},{"x":40,"y":36,"v":13},{"x":41,"y":36,"v":7},{"x":42,"y":36,"v":7},{"x":43,"y":36,"v":5},{"x":44,"y":36,"v":8},{"x":45,"y":36,"v":1},{"x":46,"y":36,"v":11},{"x":47,"y":36,"v":8},{"x":48,"y":36,"v":8},{"x":49,"y":36,"v":7},{"x":50,"y":36,"v":6},{"x":51,"y":36,"v":8},{"x":52,"y":36,"v":7},{"x":53,"y":36,"v":7},{"x":54,"y":36,"v":4},{"x":55,"y":36,"v":7},{"x":56,"y":36,"v":10},{"x":57,"y":36,"v":12},{"x":58,"y":36,"v":9},{"x":59,"y":36,"v":7},{"x":60,"y":36,"v":9},{"x":61,"y":36,"v":7},{"x":62,"y":36,"v":7},{"x":63,"y":36,"v":21},
{"x":0,"y":35,"v":7},{"x":1,"y":35,"v":14},{"x":2,"y":35,"v":10},{"x":3,"y":35,"v":9},{"x":4,"y":35,"v":4},{"x":5,"y":35,"v":6},{"x":6,"y":35,"v":10},{"x":7,"y":35,"v":9},{"x":8,"y":35,"v":10},{"x":9,"y":35,"v":10},{"x":10,"y":35,"v":6},{"x":11,"y":35,"v":3},{"x":12,"y":35,"v":9},{"x":13,"y":35,"v":5},{"x":14,"y":35,"v":5},{"x":15,"y":35,"v":6},{"x":16,"y":35,"v":6},{"x":17,"y":35,"v":9},{"x":18,"y":35,"v":9},{"x":19,"y":35,"v":7},{"x":20,"y":35,"v":3},{"x":21,"y":35,"v":9},{"x":22,"y":35,"v":9},{"x":23,"y":35,"v":5},{"x":24,"y":35,"v":13},{"x":25,"y":35,"v":6},{"x":26,"y":35,"v":5},{"x":27,"y":35,"v":7},{"x":28,"y":35,"v":4},{"x":29,"y":35,"v":8},{"x":30,"y":35,"v":6},{"x":31,"y":35,"v":1},{"x":32,"y":35,"v":4},{"x":33,"y":35,"v":10},{"x":34,"y":35,"v":7},{"x":35,"y":35,"v":7},{"x":36,"y":35,"v":9},{"x":37,"y":35,"v":9},{"x":38,"y":35,"v":10},{"x":39,"y":35,"v":12},{"x":40,"y":35,"v":4},{"x":41,"y":35,"v":7},{"x":42,"y":35,"v":10},{"x":43,"y":35,"v":10},{"x":44,"y":35,"v":6},{"x":45,"y":35,"v":6},{"x":46,"y":35,"v":7},{"x":47,"y":35,"v":5},{"x":48,"y":35,"v":2},{"x":49,"y":35,"v":3},{"x":50,"y":35,"v":4},{"x":51,"y":35,"v":8},{"x":52,"y":35,"v":8},{"x":53,"y":35,"v":7},{"x":54,"y":35,"v":11},{"x":55,"y":35,"v":8},{"x":56,"y":35,"v":7},{"x":57,"y":35,"v":12},{"x":58,"y":35,"v":7},{"x":59,"y":35,"v":7},{"x":60,"y":35,"v":7},{"x":61,"y":35,"v":7},{"x":62,"y":35,"v":5},{"x":63,"y":35,"v":10},
{"x":0,"y":34,"v":7},{"x":1,"y":34,"v":8},{"x":2,"y":34,"v":14},{"x":3,"y":34,"v":8},{"x":4,"y":34,"v":6},{"x":6,"y":34,"v":11},{"x":7,"y":34,"v":7},{"x":8,"y":34,"v":7},{"x":9,"y":34,"v":4},{"x":10,"y":34,"v":6},{"x":11,"y":34,"v":5},{"x":12,"y":34,"v":11},{"x":13,"y":34,"v":9},{"x":14,"y":34,"v":5},{"x":15,"y":34,"v":4},{"x":16,"y":34,"v":8},{"x":17,"y":34,"v":6},{"x":18,"y":34,"v":6},{"x":19,"y":34,"v":12},{"x":20,"y":34,"v":3},{"x":21,"y":34,"v":8},{"x":22,"y":34,"v":10},{"x":23,"y":34,"v":7},{"x":24,"y":34,"v":7},{"x":25,"y":34,"v":9},{"x":26,"y":34,"v":8},{"x":27,"y":34,"v":5},{"x":28,"y":34,"v":5},{"x":29,"y":34,"v":8},{"x":30,"y":34,"v":15},{"x":31,"y":34,"v":7},{"x":32,"y":34,"v":9},{"x":33,"y":34,"v":6},{"x":34,"y":34,"v":7},{"x":35,"y":34,"v":9},{"x":36,"y":34,"v":9},{"x":37,"y":34,"v":6},{"x":38,"y":34,"v":4},{"x":39,"y":34,"v":9},{"x":40,"y":34,"v":8},{"x":41,"y":34,"v":7},{"x":42,"y":34,"v":6},{"x":43,"y":34,"v":8},{"x":44,"y":34,"v":9},{"x":45,"y":34,"v":6},{"x":46,"y":34,"v":6},{"x":47,"y":34,"v":8},{"x":48,"y":34,"v":6},{"x":49,"y":34,"v":6},{"x":50,"y":34,"v":4},{"x":51,"y":34,"v":7},{"x":52,"y":34,"v":6},{"x":53,"y":34,"v":10},{"x":54,"y":34,"v":6},{"x":55,"y":34,"v":8},{"x":56,"y":34,"v":9},{"x":57,"y":34,"v":8},{"x":58,"y":34,"v":7},{"x":59,"y":34,"v":7},{"x":60,"y":34,"v":12},{"x":61,"y":34,"v":7},{"x":62,"y":34,"v":11},{"x":63,"y":34,"v":10},
{"x":0,"y":33,"v":9},{"x":1,"y":33,"v":3},{"x":2,"y":33,"v":6},{"x":3,"y":33,"v":9},{"x":4,"y":33,"v":2},{"x":5,"y":33,"v":11},{"x":6,"y":33,"v":8},{"x":7,"y":33,"v":7},{"x":8,"y":33,"v":5},{"x":9,"y":33,"v":8},{"x":10,"y":33,"v":9},{"x":11,"y":33,"v":5},{"x":12,"y":33,"v":11},{"x":13,"y":33,"v":7},{"x":14,"y":33,"v":7},{"x":15,"y":33,"v":7},{"x":16,"y":33,"v":5},{"x":17,"y":33,"v":12},{"x":18,"y":33,"v":9},{"x":19,"y":33,"v":12},{"x":20,"y":33,"v":4},{"x":21,"y":33,"v":8},{"x":22,"y":33,"v":7},{"x":23,"y":33,"v":4},{"x":24,"y":33,"v":8},{"x":25,"y":33,"v":4},{"x":26,"y":33,"v":13},{"x":27,"y":33,"v":7},{"x":28,"y":33,"v":9},{"x":29,"y":33,"v":14},{"x":30,"y":33,"v":6},{"x":31,"y":33,"v":11},{"x":32,"y":33,"v":5},{"x":33,"y":33,"v":7},{"x":34,"y":33,"v":10},{"x":35,"y":33,"v":7},{"x":36,"y":33,"v":10},{"x":37,"y":33,"v":4},{"x":38,"y":33,"v":6},{"x":39,"y":33,"v":14},{"x":40,"y":33,"v":8},{"x":41,"y":33,"v":8},{"x":42,"y":33,"v":7},{"x":43,"y":33,"v":9},{"x":44,"y":33,"v":9},{"x":45,"y":33,"v":7},{"x":46,"y":33,"v":6},{"x":47,"y":33,"v":8},{"x":48,"y":33,"v":6},{"x":49,"y":33,"v":10},{"x":50,"y":33,"v":4},{"x":51,"y":33,"v":9},{"x":52,"y":33,"v":7},{"x":53,"y":33,"v":8},{"x":54,"y":33,"v":9},{"x":55,"y":33,"v":7},{"x":56,"y":33,"v":6},{"x":57,"y":33,"v":5},{"x":58,"y":33,"v":7},{"x":59,"y":33,"v":4},{"x":60,"y":33,"v":4},{"x":61,"y":33,"v":9},{"x":62,"y":33,"v":3},{"x":63,"y":33,"v":14},
{"x":0,"y":32,"v":9},{"x":1,"y":32,"v":9},{"x":2,"y":32,"v":6},{"x":3,"y":32,"v":10},{"x":4,"y":32,"v":12},{"x":5,"y":32,"v":13},{"x":6,"y":32,"v":6},{"x":7,"y":32,"v":7},{"x":8,"y":32,"v":7},{"x":9,"y":32,"v":13},{"x":10,"y":32,"v":6},{"x":11,"y":32,"v":6},{"x":12,"y":32,"v":12},{"x":13,"y":32,"v":10},{"x":14,"y":32,"v":7},{"x":15,"y":32,"v":10},{"x":16,"y":32,"v":6},{"x":17,"y":32,"v":13},{"x":19,"y":32,"v":12},{"x":20,"y":32,"v":14},{"x":21,"y":32,"v":7},{"x":22,"y":32,"v":10},{"x":23,"y":32,"v":14},{"x":24,"y":32,"v":7},{"x":25,"y":32,"v":5},{"x":26,"y":32,"v":5},{"x":27,"y":32,"v":5},{"x":28,"y":32,"v":6},{"x":29,"y":32,"v":6},{"x":30,"y":32,"v":4},{"x":31,"y":32,"v":7},{"x":32,"y":32,"v":9},{"x":33,"y":32,"v":8},{"x":34,"y":32,"v":8},{"x":35,"y":32,"v":10},{"x":36,"y":32,"v":12},{"x":37,"y":32,"v":7},{"x":38,"y":32,"v":2},{"x":39,"y":32,"v":13},{"x":40,"y":32,"v":7},{"x":41,"y":32,"v":7},{"x":42,"y":32,"v":6},{"x":43,"y":32,"v":7},{"x":44,"y":32,"v":8},{"x":45,"y":32,"v":9},{"x":46,"y":32,"v":10},{"x":47,"y":32,"v":5},{"x":48,"y":32,"v":7},{"x":49,"y":32,"v":7},{"x":50,"y":32,"v":8},{"x":51,"y":32,"v":7},{"x":52,"y":32,"v":10},{"x":53,"y":32,"v":7},{"x":54,"y":32,"v":11},{"x":55,"y":32,"v":13},{"x":56,"y":32,"v":9},{"x":57,"y":32,"v":9},{"x":58,"y":32,"v":7},{"x":59,"y":32,"v":11},{"x":60,"y":32,"v":7},{"x":61,"y":32,"v":7},{"x":62,"y":32,"v":6},{"x":63,"y":32,"v":13},
{"x":0,"y":31,"v":6},{"x":1,"y":31,"v":7},{"x":2,"y":31,"v":11},{"x":3,"y":31,"v":6},{"x":4,"y":31,"v":10},{"x":5,"y":31,"v":4},{"x":6,"y":31,"v":14},{"x":7,"y":31,"v":10},{"x":8,"y":31,"v":5},{"x":9,"y":31,"v":8},{"x":10,"y":31,"v":11},{"x":11,"y":31,"v":9},{"x":12,"y":31,"v":12},{"x":13,"y":31,"v":5},{"x":14,"y":31,"v":5},{"x":15,"y":31,"v":6},{"x":16,"y":31,"v":5},{"x":17,"y":31,"v":10},{"x":18,"y":31,"v":4},{"x":19,"y":31,"v":8},{"x":20,"y":31,"v":10},{"x":21,"y":31,"v":1},{"x":22,"y":31,"v":7},{"x":23,"y":31,"v":9},{"x":24,"y":31,"v":9},{"x":25,"y":31,"v":8},{"x":26,"y":31,"v":8},{"x":27,"y":31,"v":4},{"x":28,"y":31,"v":11},{"x":29,"y":31,"v":10},{"x":30,"y":31,"v":8},{"x":31,"y":31,"v":10},{"x":32,"y":31,"v":4},{"x":33,"y":31,"v":7},{"x":34,"y":31,"v":6},{"x":35,"y":31,"v":9},{"x":36,"y":31,"v":10},{"x":37,"y":31,"v":10},{"x":38,"y":31,"v":12},{"x":39,"y":31,"v":4},{"x":40,"y":31,"v":3},{"x":41,"y":31,"v":8},{"x":42,"y":31,"v":13},{"x":43,"y":31,"v":12},{"x":44,"y":31,"v":7},{"x":45,"y":31,"v":7},{"x":46,"y":31,"v":7},{"x":47,"y":31,"v":7},{"x":48,"y":31,"v":6},{"x":49,"y":31,"v":7},{"x":50,"y":31,"v":7},{"x":51,"y":31,"v":3},{"x":52,"y":31,"v":4},{"x":53,"y":31,"v":4},{"x":54,"y":31,"v":4},{"x":55,"y":31,"v":7},{"x":56,"y":31,"v":4},{"x":57,"y":31,"v":11},{"x":58,"y":31,"v":3},{"x":59,"y":31,"v":7},{"x":60,"y":31,"v":7},{"x":61,"y":31,"v":10},{"x":62,"y":31,"v":10},{"x":63,"y":31,"v":11}
]},
"mark":{"type":"rect","width":11.9,"height":10.08,"strokeWidth":0.6},
"encoding":{
"x":{"field":"x","type":"quantitative","scale":{"domain":[-0.5,63.5],"nice":false,"zero":false},
"axis":{"title":"x [px]","titleFontSize":40,"titleFont":"Liberation Sans","titleFontWeight":"bold","titleColor":"black","titleAnchor":"end","titlePadding":-7,"values":[0,2,4,6,8,10,12,14,16,18,20,22,24,26,28,30,32,34,36,38,40,42,44,46,48,50,52,54,56,58,60,62],"labelExpr":"datum.value%10==0?datum.label:''","labelFontSize":27,"labelFontWeight":"bold","labelColor":"black","labelOverlap":false,"labelPadding":19,"tickColor":"black","tickWidth":1.5,"tickSize":{"condition":{"test":"datum.value%10==0","value":-17},"value":-8},"domainColor":"black","domainWidth":1.5,"grid":false,"zindex":1}},
"y":{"field":"y","type":"quantitative","scale":{"domain":[-0.5,64.5],"nice":false,"zero":false},
"axis":{"title":"y [px]","titleFontSize":40,"titleFont":"Liberation Sans","titleFontWeight":"bold","titleColor":"black","titleAnchor":"end","titlePadding":51,"values":[0,2,4,6,8,10,12,14,16,18,20,22,24,26,28,30,32,34,36,38,40,42,44,46,48,50,52,54,56,58,60,62,64],"labelExpr":"datum.value%10==0?datum.label:''","labelFontSize":27,"labelFontWeight":"bold","labelColor":"black","labelOverlap":false,"labelPadding":31,"tickColor":"black","tickWidth":1.5,"tickSize":{"condition":{"test":"datum.value%10==0","value":-26},"value":-13},"domainColor":"black","domainWidth":1.5,"grid":false,"zindex":1}},
"color":{"field":"v","type":"ordinal","legend":null,"scale":{"domain":[0,1,2,3,4,5,6,7,8,9,10,11,12,13,14,15,16,17,18,19,20,21,22],"range":["#260a3a","#2b114e","#37185f","#331e66","#2f2a6e","#2c3572","#2a4276","#274d78","#255778","#24607a","#236a78","#217174","#1f7b71","#1f856e","#1f8f6b","#259a66","#2fa25f","#3da85a","#4aae50","#59b444","#6bbb39","#7fc12e","#93c91f"]}},
"stroke":{"field":"v","type":"ordinal","legend":null,"scale":{"domain":[0,1,2,3,4,5,6,7,8,9,10,11,12,13,14,15,16,17,18,19,20,21,22],"range":["#260a3a","#2b114e","#37185f","#331e66","#2f2a6e","#2c3572","#2a4276","#274d78","#255778","#24607a","#236a78","#217174","#1f7b71","#1f856e","#1f8f6b","#259a66","#2fa25f","#3da85a","#4aae50","#59b444","#6bbb39","#7fc12e","#93c91f"]}}}},
{"width":49,"height":655,
"data":{"values":[{"lo":0,"hi":1},{"lo":1,"hi":2},{"lo":2,"hi":3},{"lo":3,"hi":4},{"lo":4,"hi":5},{"lo":5,"hi":6},{"lo":6,"hi":7},{"lo":7,"hi":8},{"lo":8,"hi":9},{"lo":9,"hi":10},{"lo":10,"hi":11},{"lo":11,"hi":12},{"lo":12,"hi":13},{"lo":13,"hi":14},{"lo":14,"hi":15},{"lo":15,"hi":16},{"lo":16,"hi":17},{"lo":17,"hi":18},{"lo":18,"hi":19},{"lo":19,"hi":20},{"lo":20,"hi":21},{"lo":21,"hi":22},{"lo":22,"hi":23}]},
"mark":{"type":"rect","strokeWidth":0.6},
"encoding":{
"y":{"field":"lo","type":"quantitative","scale":{"domain":[0,23],"nice":false},
"axis":{"orient":"right","title":"events","titleFontSize":40,"titleFont":"Liberation Sans","titleFontWeight":"bold","titleColor":"black","titleAngle":270,"titleAnchor":"end","titleAlign":"right","titleBaseline":"bottom","titlePadding":61,"values":[0,2,4,6,8,10,12,14,16,18,20,22],"labelFontSize":27,"labelFontWeight":"bold","labelColor":"black","labelPadding":28,"tickColor":"black","tickWidth":1.5,"tickSize":-26,"domainColor":"black","domainWidth":1.5,"grid":false,"zindex":1}},
"y2":{"field":"hi"},
"color":{"field":"lo","type":"ordinal","legend":null,"scale":{"domain":[0,1,2,3,4,5,6,7,8,9,10,11,12,13,14,15,16,17,18,19,20,21,22],"range":["#260a3a","#2b114e","#37185f","#331e66","#2f2a6e","#2c3572","#2a4276","#274d78","#255778","#24607a","#236a78","#217174","#1f7b71","#1f856e","#1f8f6b","#259a66","#2fa25f","#3da85a","#4aae50","#59b444","#6bbb39","#7fc12e","#93c91f"]}},
"stroke":{"field":"lo","type":"ordinal","legend":null,"scale":{"domain":[0,1,2,3,4,5,6,7,8,9,10,11,12,13,14,15,16,17,18,19,20,21,22],"range":["#260a3a","#2b114e","#37185f","#331e66","#2f2a6e","#2c3572","#2a4276","#274d78","#255778","#24607a","#236a78","#217174","#1f7b71","#1f856e","#1f8f6b","#259a66","#2fa25f","#3da85a","#4aae50","#59b444","#6bbb39","#7fc12e","#93c91f"]}}}}
],"resolve":{"scale":{"color":"independent"}}}
